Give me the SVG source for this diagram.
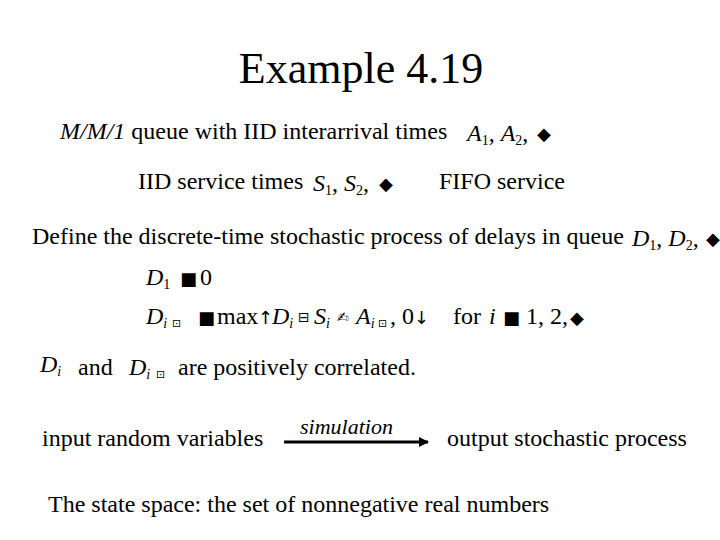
<svg xmlns="http://www.w3.org/2000/svg" width="720" height="540" viewBox="0 0 720 540">
<defs>
<style>
.t{font-family:'Liberation Serif','Times New Roman',serif;font-size:24px}
.m{font-family:'Liberation Serif','Times New Roman',serif;font-size:24px;font-style:italic}
.s{font-size:14px}
.g{font-family:'DejaVu Sans',sans-serif;font-size:18px}
</style>
<marker id="ah" markerWidth="10" markerHeight="10" refX="9" refY="5" orient="auto" markerUnits="userSpaceOnUse"><path d="M0,0 L10,5 L0,10 Z" fill="#000"/></marker>
</defs>
<rect width="720" height="540" fill="#fff"/>
<text x="361" y="83" class="t" style="font-size:44px" text-anchor="middle">Example 4.19</text>
<text x="60" y="139" class="t"><tspan font-style="italic">M/M/1</tspan> queue with  IID interarrival times</text>
<text x="467" y="141" class="m">A<tspan class="s" dy="4" font-style="normal">1</tspan><tspan dy="-4" font-style="normal">, </tspan>A<tspan class="s" dy="4" font-style="normal">2</tspan><tspan dy="-4" font-style="normal">,</tspan></text>
<text x="537" y="140" class="g">◆</text>
<text x="138" y="189" class="t">IID service times</text>
<text x="313" y="191" class="m">S<tspan class="s" dy="4" font-style="normal">1</tspan><tspan dy="-4" font-style="normal">, </tspan>S<tspan class="s" dy="4" font-style="normal">2</tspan><tspan dy="-4" font-style="normal">,</tspan></text>
<text x="379" y="190" class="g">◆</text>
<text x="439" y="189" class="t">FIFO service</text>
<text x="32" y="244" class="t">Define the discrete-time stochastic process of delays in queue</text>
<text x="632" y="246" class="m">D<tspan class="s" dy="4" font-style="normal">1</tspan><tspan dy="-4" font-style="normal">, </tspan>D<tspan class="s" dy="4" font-style="normal">2</tspan><tspan dy="-4" font-style="normal">,</tspan></text>
<text x="706" y="245" class="g">◆</text>
<text x="146" y="285" class="m">D<tspan class="s" dy="4" font-style="normal">1</tspan></text>
<text x="180" y="285" class="g">■</text><text x="200" y="285" class="t">0</text>
<text x="146" y="324" class="m">D<tspan class="s" dy="4">i</tspan></text>
<text x="172" y="327" font-family="DejaVu Sans" font-size="11">⊡</text>
<text x="198" y="324" class="g">■</text>
<text x="217" y="324" class="t">max</text>
<text x="258" y="324" class="g">↑</text>
<text x="272" y="324" class="m">D<tspan class="s" dy="4">i</tspan></text>
<text x="298" y="322" font-family="DejaVu Sans" font-size="14">⊟</text>
<text x="314" y="324" class="m">S<tspan class="s" dy="4">i</tspan></text>
<text x="337" y="322" font-family="DejaVu Sans" font-size="14">✍</text>
<text x="356" y="324" class="m">A<tspan class="s" dy="4">i</tspan></text>
<text x="378" y="327" font-family="DejaVu Sans" font-size="11">⊡</text>
<text x="390" y="324" class="t">, 0</text>
<text x="414" y="324" class="g">↓</text>
<text x="453" y="324" class="t">for</text>
<text x="489" y="324" class="m">i</text>
<text x="503" y="324" class="g">■</text>
<text x="526" y="324" class="t">1, 2,</text>
<text x="570" y="324" class="g">◆</text>
<text x="40" y="372" class="m">D<tspan class="s" dy="4">i</tspan></text>
<text x="78" y="375" class="t">and</text>
<text x="129" y="375" class="m">D<tspan class="s" dy="4">i</tspan></text>
<text x="156" y="378" font-family="DejaVu Sans" font-size="11">⊡</text>
<text x="178" y="375" class="t">are positively correlated.</text>
<text x="42" y="446" class="t">input random variables</text>
<text x="300" y="434" class="m" style="font-size:22px">simulation</text>
<line x1="284" y1="442" x2="428" y2="442" stroke="#000" stroke-width="3" marker-end="url(#ah)"/>
<text x="447" y="446" class="t">output stochastic process</text>
<text x="48" y="512" class="t">The state space: the set of nonnegative real numbers</text>
</svg>
